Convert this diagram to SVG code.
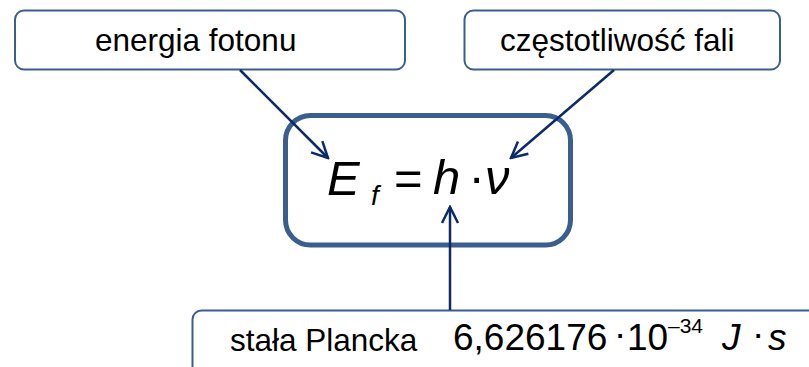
<svg xmlns="http://www.w3.org/2000/svg" width="809" height="367" viewBox="0 0 809 367">
  <defs>
    <style>
      .lbl { fill: none; stroke: #3A5F8F; stroke-width: 2; }
      .main { fill: none; stroke: #3A5F8F; stroke-width: 5; }
      .t { font-family: "Liberation Sans", Arial, sans-serif; fill: #000; }
      .it { font-style: italic; }
      .conn { stroke: #0C2A6A; stroke-width: 2.5; fill: none; }
    </style>
    <marker id="arr" viewBox="0 0 20 20" refX="18" refY="10" markerWidth="20" markerHeight="20" markerUnits="userSpaceOnUse" orient="auto">
      <path d="M2,2 L18,10 L2,18" fill="none" stroke="#0C2A6A" stroke-width="2.5"/>
    </marker>
  </defs>
  <rect width="809" height="367" fill="#fff"/>

  <g id="energia">
    <rect class="lbl" x="15" y="10.5" width="390" height="59" rx="9"/>
    <text class="t" x="95" y="51" font-size="31.5">energia fotonu</text>
  </g>

  <g id="czestotliwosc">
    <rect class="lbl" x="464.5" y="10.5" width="315.5" height="59" rx="9"/>
    <text class="t" x="500" y="51" font-size="31.5">częstotliwość fali</text>
  </g>

  <g id="wzor">
    <rect class="main" x="285.5" y="115.5" width="285" height="129.5" rx="25"/>
    <text class="t it" x="327" y="195" font-size="49">E</text>
    <text class="t it" x="371" y="205" font-size="28">f</text>
    <text class="t" x="394" y="195" font-size="49">=</text>
    <text class="t it" x="433" y="194" font-size="49">h</text>
    <text class="t" x="468.5" y="194" font-size="49">·</text>
    <text class="t it" x="485" y="194" font-size="49">ν</text>
  </g>

  <g id="stala">
    <rect class="lbl" x="192.5" y="310.5" width="640" height="80" rx="9"/>
    <text class="t" x="230" y="351" font-size="31.5">stała Plancka</text>
    <text class="t" x="453" y="350" font-size="37">6,626176</text>
    <text class="t" x="614" y="346" font-size="37">·</text>
    <text class="t" x="627" y="350" font-size="37">10</text>
    <text class="t" x="668" y="333" font-size="21">–34</text>
    <text class="t it" x="722" y="350" font-size="37">J</text>
    <text class="t" x="752" y="346" font-size="37">·</text>
    <text class="t it" x="768" y="350" font-size="37">s</text>
  </g>

  <g id="connectors">
    <line class="conn" x1="240" y1="70" x2="328" y2="158" marker-end="url(#arr)"/>
    <line class="conn" x1="614" y1="70" x2="511" y2="158" marker-end="url(#arr)"/>
    <line class="conn" x1="450" y1="310" x2="450" y2="207" marker-end="url(#arr)"/>
  </g>
</svg>
